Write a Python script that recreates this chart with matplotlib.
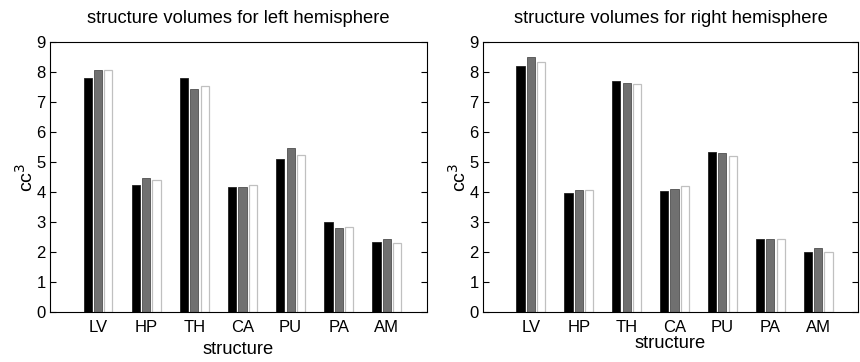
import matplotlib.pyplot as plt
import numpy as np

plt.rcParams['font.family'] = ['Liberation Sans', 'DejaVu Sans']

structures = ["LV", "HP", "TH", "CA", "PU", "PA", "AM"]

# three series per hemisphere (black, gray, white bars)
left_s1 = [7.80, 4.22, 7.80, 4.17, 5.11, 2.99, 2.33]
left_s2 = [8.08, 4.48, 7.42, 4.17, 5.48, 2.79, 2.43]
left_s3 = [8.05, 4.41, 7.55, 4.23, 5.24, 2.82, 2.31]

right_s1 = [8.19, 3.98, 7.71, 4.02, 5.33, 2.42, 2.01]
right_s2 = [8.49, 4.06, 7.63, 4.11, 5.29, 2.42, 2.15]
right_s3 = [8.33, 4.06, 7.60, 4.20, 5.21, 2.42, 2.01]


def draw(ax, s1, s2, s3, title, xlabel_pad, ylabel_pad):
    x = np.arange(1, len(structures) + 1)
    w = 0.17
    step = 0.215
    ax.bar(x - step, s1, w, color="black", edgecolor="#202020", linewidth=0.6)
    ax.bar(x, s2, w, color="#707070", edgecolor="#505050", linewidth=0.6)
    ax.bar(x + step, s3, w, color="white", edgecolor="#c0c0c0", linewidth=0.9)
    ax.set_xlim(0, 7.83)
    ax.set_ylim(0, 9)
    ax.set_yticks(range(0, 10))
    ax.set_xticks(x)
    ax.set_xticklabels(structures)
    ax.tick_params(axis="y", direction="in", right=True, length=4, labelsize=12, pad=3)
    ax.tick_params(axis="x", length=0, labelsize=12, pad=6)
    for sp in ax.spines.values():
        sp.set_linewidth(0.8)
    ax.set_title(title, fontsize=13.2, pad=14)
    ax.set_xlabel("structure", fontsize=13.2, labelpad=xlabel_pad)
    ax.set_ylabel("cc$^3$", fontsize=14, labelpad=ylabel_pad)


fig = plt.figure(figsize=(8.6, 3.62), dpi=100)
ax1 = fig.add_axes([0.058, 0.138, 0.4384, 0.746])
ax2 = fig.add_axes([0.5616, 0.138, 0.436, 0.746])

draw(ax1, left_s1, left_s2, left_s3, "structure volumes for left hemisphere", 4, 0)
draw(ax2, right_s1, right_s2, right_s3, "structure volumes for right hemisphere", 0, 0)

fig.savefig("out.png", dpi=100)
